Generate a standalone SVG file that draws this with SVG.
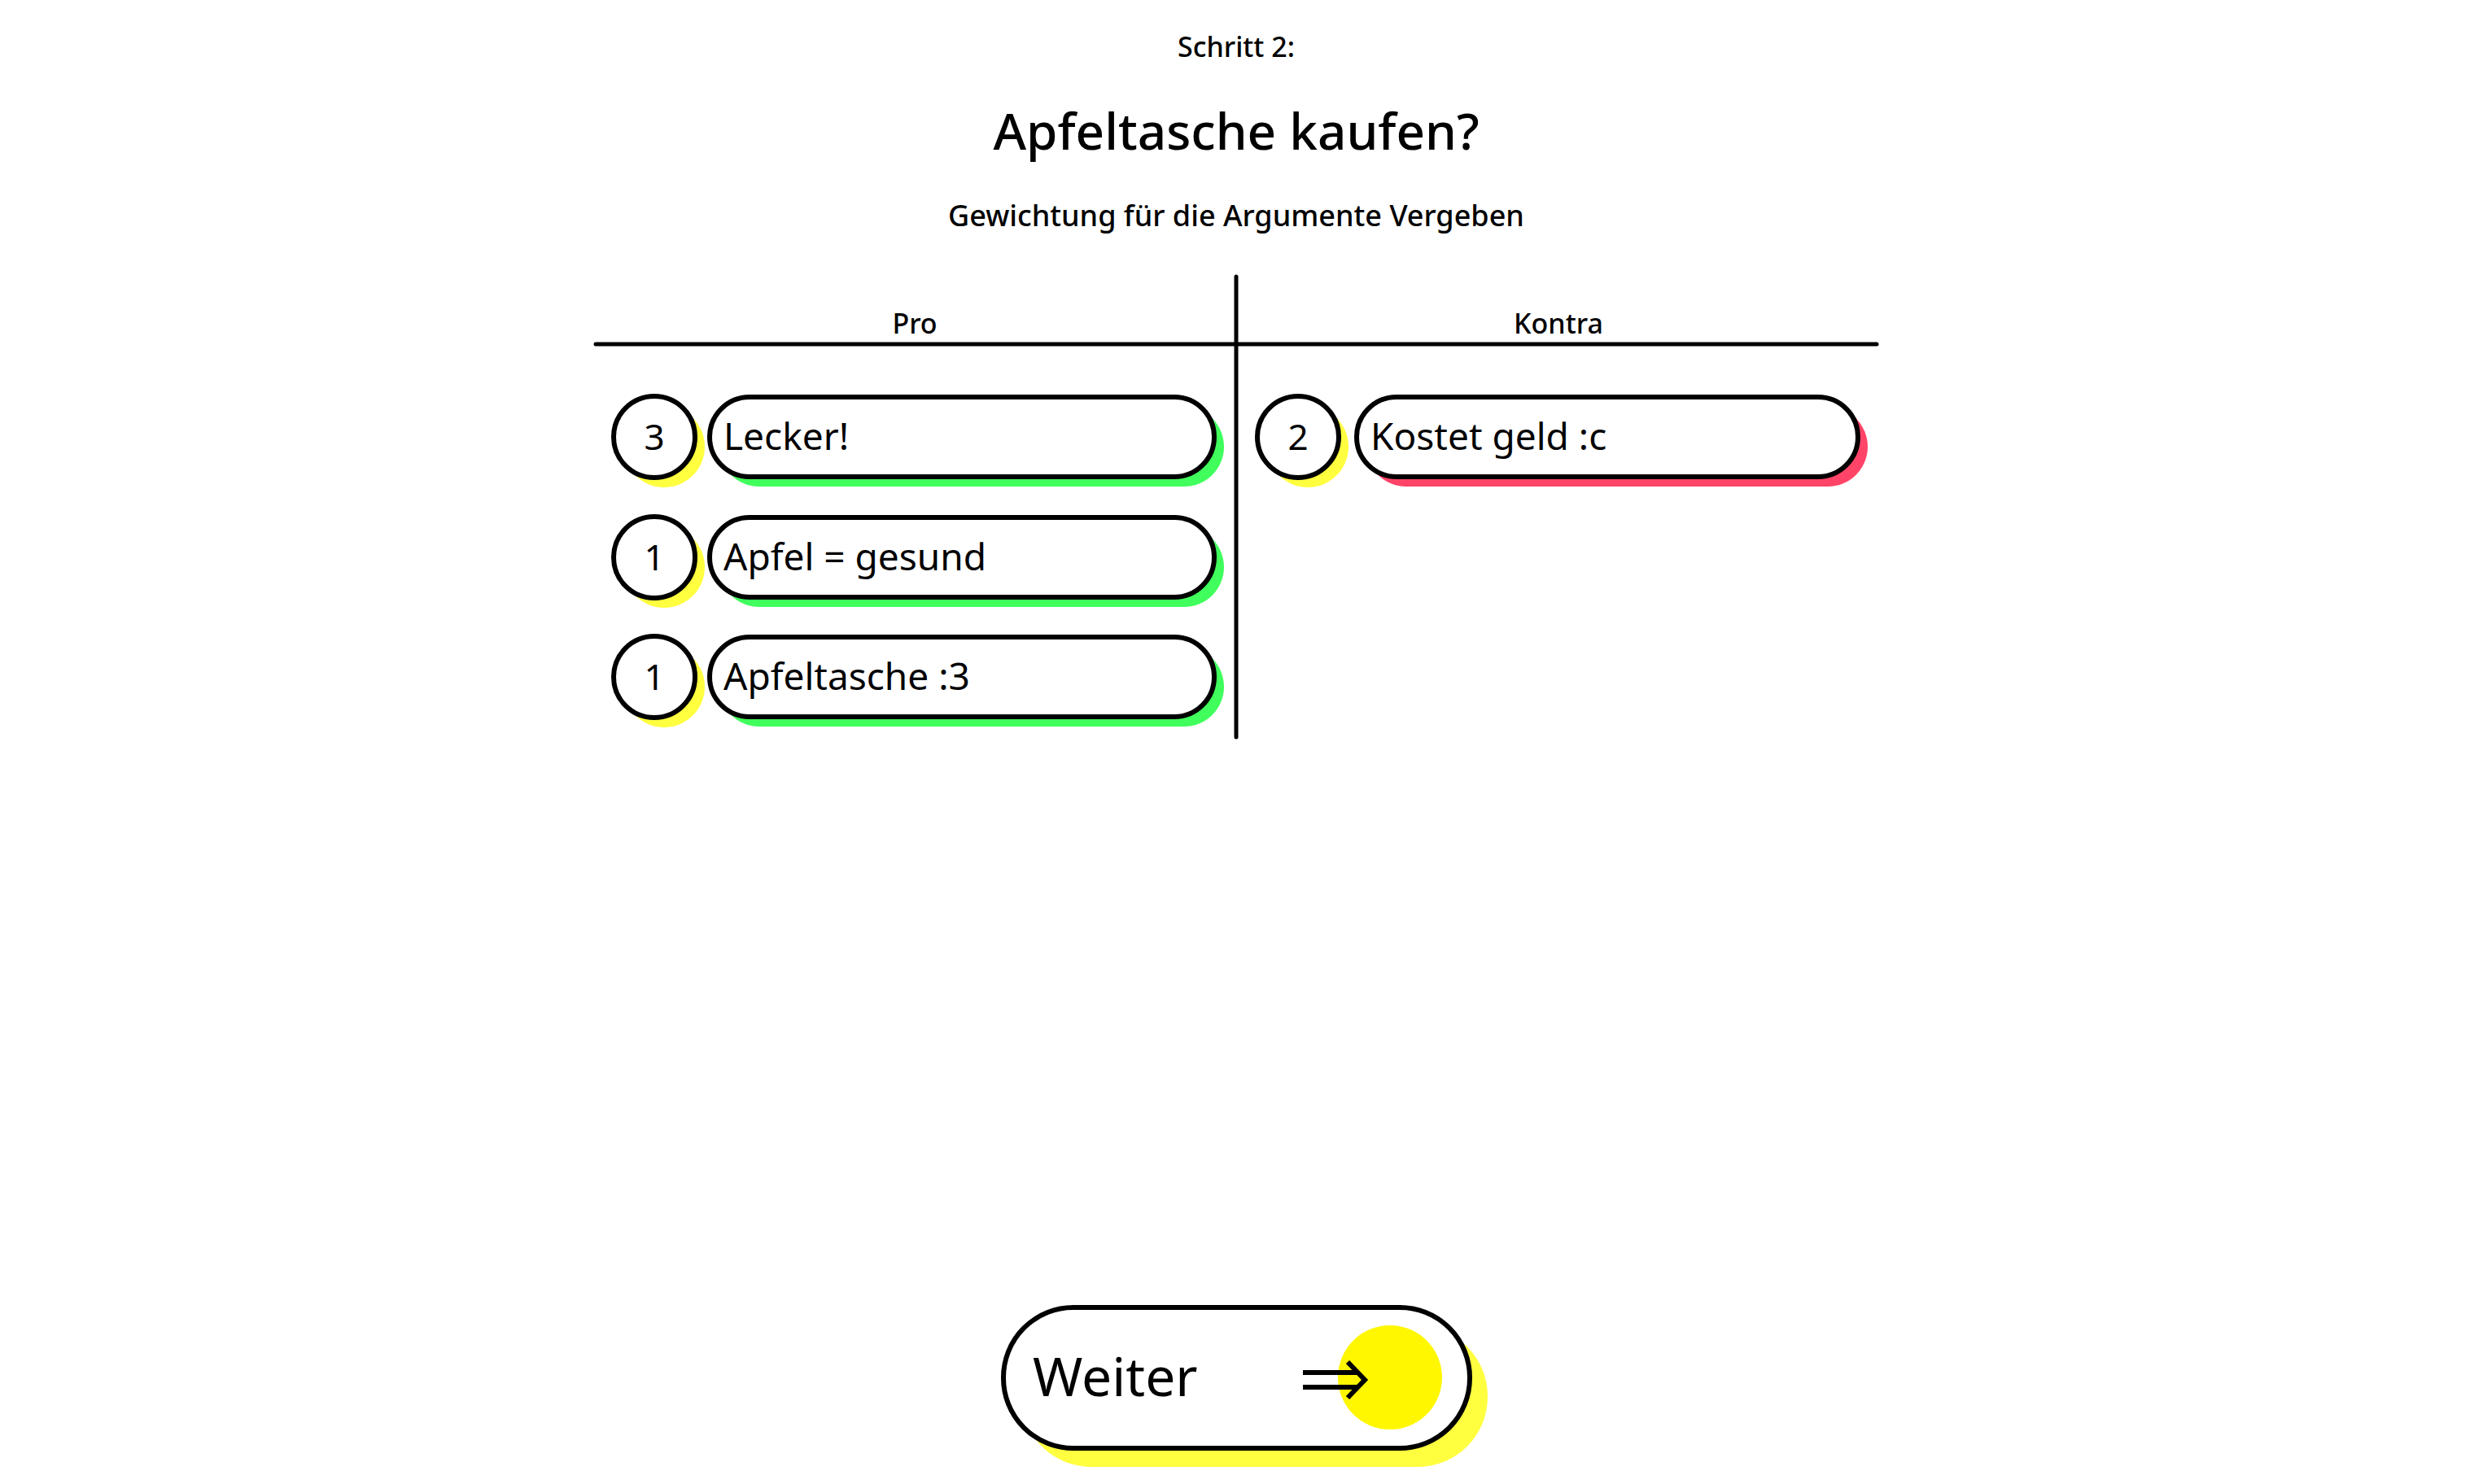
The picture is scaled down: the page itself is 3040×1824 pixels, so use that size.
<svg xmlns="http://www.w3.org/2000/svg" width="3040" height="1824" viewBox="0 0 3040 1824">
<style>
text{font-family:"Noto Sans","Open Sans",sans-serif;fill:#000}
.b{fill:#fff;stroke:#000;stroke-width:6}
.y{fill:#ffff40}.g{fill:#40ff5c}.r{fill:#ff4468}
.t{font-size:46px}.n{font-size:44px;text-anchor:middle}
.h{font-size:34px;text-anchor:middle;font-weight:500}
</style>
<rect width="3040" height="1824" fill="#fff"/>
<text x="1519" y="70" class="h">Schritt 2:</text>
<text x="1519" y="184" style="font-size:62px;text-anchor:middle;font-weight:500">Apfeltasche kaufen?</text>
<text x="1519" y="278" style="font-size:36px;text-anchor:middle;font-weight:500">Gewichtung für die Argumente Vergeben</text>
<g id="table" stroke="#000" stroke-width="5" stroke-linecap="round">
<line x1="732" y1="423" x2="2306" y2="423"/>
<line x1="1519" y1="340" x2="1519" y2="906"/>
</g>
<text x="1124" y="410" class="h">Pro</text>
<text x="1915" y="410" class="h">Kontra</text>
<g id="p1"><circle cx="816" cy="549" r="50" class="y"/><circle cx="804" cy="537" r="50" class="b"/><text x="804" y="553" class="n">3</text>
<rect x="884" y="500" width="620" height="98" rx="49" class="g"/><rect x="872" y="488" width="620" height="98" rx="49" class="b"/><text x="889" y="553" class="t">Lecker!</text></g>
<g id="p2"><circle cx="816" cy="697" r="50" class="y"/><circle cx="804" cy="685" r="50" class="b"/><text x="804" y="701" class="n">1</text>
<rect x="884" y="648" width="620" height="98" rx="49" class="g"/><rect x="872" y="636" width="620" height="98" rx="49" class="b"/><text x="889" y="701" class="t">Apfel = gesund</text></g>
<g id="p3"><circle cx="816" cy="844" r="50" class="y"/><circle cx="804" cy="832" r="50" class="b"/><text x="804" y="848" class="n">1</text>
<rect x="884" y="795" width="620" height="98" rx="49" class="g"/><rect x="872" y="783" width="620" height="98" rx="49" class="b"/><text x="889" y="848" class="t">Apfeltasche :3</text></g>
<g id="k1"><circle cx="1607" cy="549" r="50" class="y"/><circle cx="1595" cy="537" r="50" class="b"/><text x="1595" y="553" class="n">2</text>
<rect x="1679" y="500" width="616" height="98" rx="49" class="r"/><rect x="1667" y="488" width="616" height="98" rx="49" class="b"/><text x="1684" y="553" class="t">Kostet geld :c</text></g>
<g id="weiter">
<rect x="1255" y="1630" width="573" height="173" rx="86" class="y"/>
<rect x="1233" y="1607" width="573" height="173" rx="86" class="b"/>
<circle cx="1708" cy="1693" r="64" fill="#fff700"/>
<text x="1269" y="1716" style="font-size:66px">Weiter</text>
<path d="M1601 1687H1670M1601 1705H1670M1656 1674L1677 1696L1656 1718" fill="none" stroke="#000" stroke-width="6"/>
</g>
</svg>
